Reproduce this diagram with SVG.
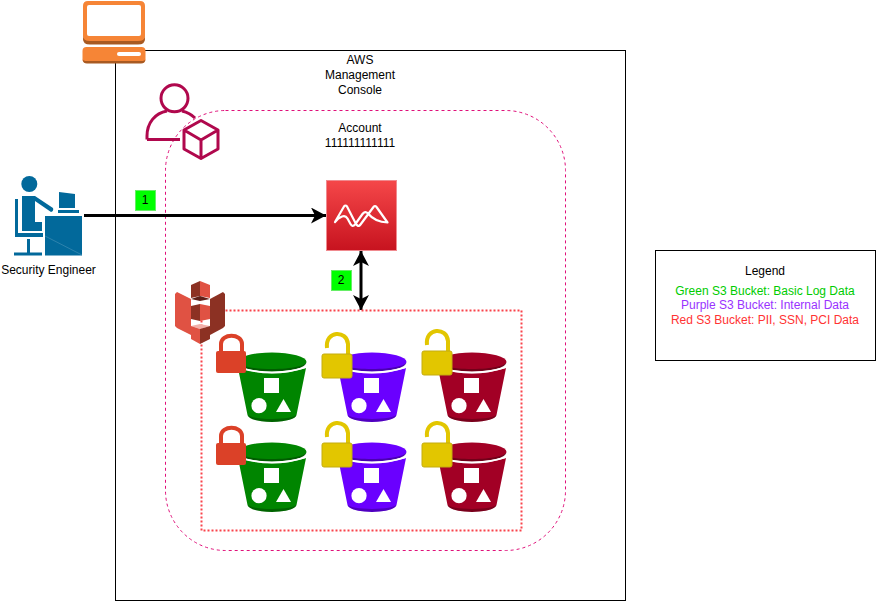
<svg xmlns="http://www.w3.org/2000/svg" xmlns:xlink="http://www.w3.org/1999/xlink" width="876" height="601" viewBox="0 0 876 601">
<style>
text{font-family:"Liberation Sans",Arial,sans-serif;font-size:12px;text-anchor:middle;fill:#000}
.conn{stroke:#000;stroke-width:3;fill:none}
.badge{fill:#00ff00;stroke:#66ee66;stroke-width:1}
</style>
<defs>
<linearGradient id="red" x1="0" y1="0" x2="0" y2="1"><stop offset="0" stop-color="#f54749"/><stop offset="1" stop-color="#c7131f"/></linearGradient>
<marker id="ah" markerUnits="userSpaceOnUse" markerWidth="16" markerHeight="16" refX="15" refY="8" orient="auto-start-reverse"><path d="M0 0L15 8L0 16L4 8Z" fill="#000"/></marker>
<g id="bucket">
<path d="M-34 -14Q0 -3 34 -14L24.500 33Q23 39 0 40Q-23 39 -24.500 33Z" fill="currentColor"/>
<path d="M-24.500 33Q-23 39 0 40Q23 39 24.500 33Q20 36.500 0 37Q-20 36.500 -24.500 33Z" fill="#000" opacity=".25"/>
<ellipse cx="0" cy="-20" rx="34.500" ry="9.500" fill="currentColor"/>
<path d="M-34.500 -20C-34.500 -14 -20 -10.500 0 -10.500C20 -10.500 34.500 -14 34.500 -20C34.500 -16.500 20 -13 0 -13C-20 -13 -34.500 -16.500 -34.500 -20Z" fill="#000" opacity=".3"/>
<path d="M-34.500 -15Q0 -4 34.500 -15" fill="none" stroke="#fff" stroke-width="1.500"/>
<rect x="-8" y="-4" width="15" height="15" fill="#fff"/>
<circle cx="-13" cy="23.700" r="7.600" fill="#fff"/>
<path d="M11.500 17L19 30H4Z" fill="#fff"/>
</g>
<g id="lock-red">
<path d="M-10 0V-8C-10 -19 11 -19 11 -8V0" fill="none" stroke="#db4128" stroke-width="4"/>
<rect x="-15" y="-1" width="30" height="22" rx="2" fill="#db4128"/>
</g>
<g id="lock-open">
<path d="M-10 -6C-12 -24 10 -24 11 -10V3" fill="none" stroke="#e2c600" stroke-width="4"/>
<rect x="-15" y="0" width="30" height="24" rx="2" fill="#e2c600" stroke="#c4ac10" stroke-width="1"/>
</g>
</defs>
<rect width="876" height="601" fill="#fff"/>
<g id="console-frame"><rect x="115.500" y="50.500" width="510" height="550" fill="#fff" stroke="#000"/><text x="360" y="64">AWS</text><text x="360" y="79">Management</text><text x="360" y="94">Console</text></g>
<g id="computer">
<path d="M83 36V6Q83 1 88 1H140Q145 1 145 6V36Q145 44 138 44H90Q83 44 83 36Z" fill="#f68536"/>
<path d="M83 36V39Q83 44.500 90 44.500H138Q145 44.500 145 39V36Q145 41 138 41H90Q83 41 83 36Z" fill="#a85a22"/>
<rect x="87" y="5" width="54" height="31" rx="2" fill="#fff"/>
<rect x="82.500" y="47" width="63" height="16" rx="4" fill="#f68536"/>
<path d="M82.500 59Q83 63.500 87 63.500H141Q145 63.500 145.500 59Q145 61 141 61H87Q83 61 82.500 59Z" fill="#a85a22"/>
<rect x="117" y="52" width="24" height="4" rx="2" fill="#fff"/>
</g>
<g id="account"><rect x="165.500" y="110.500" width="400" height="440" rx="60" ry="60" fill="none" stroke="#e0107a" stroke-dasharray="3 3"/><text x="360" y="132">Account</text><text x="360" y="147">111111111111</text></g>
<g id="account-icon" fill="none" stroke="#b0084d" stroke-width="3">
<circle cx="174.500" cy="98.300" r="13.500"/>
<path d="M147 139.500V136C147 123 155 113 167 111M182 111Q190 113 195 118M147 139.500H180"/>
<path d="M201 120.500L218 130V149L201 158.500L184 149V130Z M184 130L201 140L218 130M201 140V158.500" stroke-linejoin="round"/>
</g>
<g id="security-engineer">
<circle cx="29.300" cy="184" r="8" fill="#02699b"/>
<path d="M22 196H35L53 208Q54 211 51 212L35 201V222H42V231H22Z M15 199H18V233H43V237H15Z" fill="#02699b"/>
<rect x="27" y="239" width="3" height="14" fill="#02699b"/><rect x="14" y="252.500" width="28" height="3" fill="#02699b"/>
<path d="M59 192L75 194V208H59Z M58 210H79V213H58Z" fill="#02699b"/>
<rect x="45" y="216" width="37" height="39.500" fill="#02699b"/>
<path d="M45 236L82 255" stroke="#4a94b8" stroke-width=".6"/>
<text x="48.500" y="274">Security Engineer</text>
</g>
<g id="connectors">
<path class="conn" d="M84 215.500H326" marker-end="url(#ah)"/>
<path class="conn" d="M361 251V310" marker-start="url(#ah)" marker-end="url(#ah)"/>
</g>
<g id="badge-1"><rect class="badge" x="135.500" y="190.500" width="20" height="20"/><text x="145" y="204">1</text></g>
<g id="badge-2"><rect class="badge" x="331.500" y="270.500" width="20" height="20"/><text x="341" y="284">2</text></g>
<g id="service"><rect x="326.500" y="180.500" width="70" height="70" fill="url(#red)" stroke="#f08a8f"/>
<path d="M335 222L344 206.500Q345.500 204.500 347 206.500L355.500 223Q358 228 360.500 224.500L373.500 207Q375 205 376.500 207L387.500 222.500Q375 222 368 213.500Q365 210.500 362.500 214L355 224.500Q352.500 227.500 350.500 224L347.500 218.500Q345.500 215 342 216.500Q338 218 335 222Z" fill="none" stroke="#fff" stroke-width="2.200" stroke-linejoin="round"/>
</g>
<g id="s3-frame"><rect x="201.500" y="310.500" width="320" height="220" fill="none" stroke="#f9434b" stroke-width="2" stroke-dasharray="2 2"/></g>
<g id="s3-icon">
<path d="M175 294L177 292L191 299V335L177 328L175 326Z" fill="#e05243"/>
<path d="M225 294L223 292L210 299V335L223 328L225 326Z" fill="#8c3123"/>
<path d="M191 285L200 281V296L191 298Z" fill="#8c3123"/><path d="M200 281L210 285V298L200 296Z" fill="#e05243"/>
<path d="M191 299L200 296L210 299L200 301Z" fill="#5e1f18"/>
<path d="M191 306L200 304V321L191 319Z" fill="#8c3123"/><path d="M200 304L210 306V319L200 321Z" fill="#e05243"/>
<path d="M191 326L200 324L210 326L200 329Z" fill="#f2b0a9"/>
<path d="M191 326L200 329V344L191 339Z" fill="#e05243"/><path d="M200 329L210 326V339L200 344Z" fill="#8c3123"/>
</g>
<g id="bucket-1"><use href="#bucket" x="272" y="382" color="#008500"/></g>
<g id="bucket-2"><use href="#bucket" x="372" y="382" color="#6a00ff"/></g>
<g id="bucket-3"><use href="#bucket" x="472" y="382" color="#a20025"/></g>
<g id="bucket-4"><use href="#bucket" x="272" y="472" color="#008500"/></g>
<g id="bucket-5"><use href="#bucket" x="372" y="472" color="#6a00ff"/></g>
<g id="bucket-6"><use href="#bucket" x="472" y="472" color="#a20025"/></g>
<g id="lock-1"><use href="#lock-red" x="231" y="352"/></g>
<g id="lock-2"><use href="#lock-open" x="337" y="354"/></g>
<g id="lock-3"><use href="#lock-open" x="437" y="351"/></g>
<g id="lock-4"><use href="#lock-red" x="231" y="444"/></g>
<g id="lock-5"><use href="#lock-open" x="337" y="443"/></g>
<g id="lock-6"><use href="#lock-open" x="437" y="443"/></g>
<g id="legend"><rect x="655.500" y="250.500" width="220" height="110" fill="#fff" stroke="#000"/>
<text x="765" y="275">Legend</text>
<text x="765" y="295" style="fill:#00cc00">Green S3 Bucket: Basic Log Data</text>
<text x="765" y="309" style="fill:#9933ff">Purple S3 Bucket: Internal Data</text>
<text x="765" y="324" style="fill:#ff3333">Red S3 Bucket: PII, SSN, PCI Data</text>
</g>
</svg>
